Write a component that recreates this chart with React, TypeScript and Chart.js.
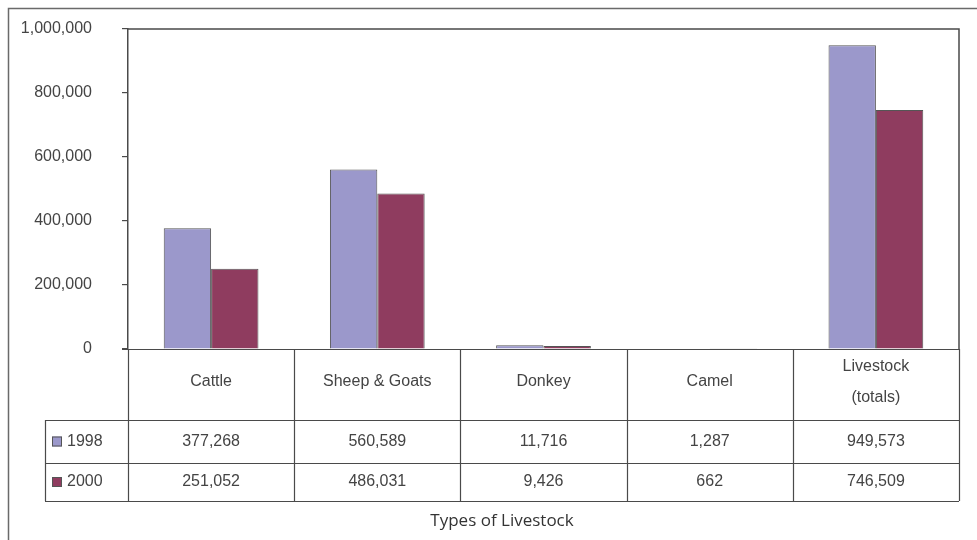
import React, { useEffect, useRef } from "react";
import { Chart, registerables } from "chart.js";

Chart.register(...registerables);

const categories: string[][] = [["Cattle"], ["Sheep & Goats"], ["Donkey"], ["Camel"], ["Livestock", "(totals)"]];
const series1998: number[] = [377268, 560589, 11716, 1287, 949573];
const series2000: number[] = [251052, 486031, 9426, 662, 746509];
const seriesNames: string[] = ["1998", "2000"];
const yTicks: number[] = [0, 200000, 400000, 600000, 800000, 1000000];
const xTitle = "Types of Livestock";

const color1998 = "#9b98cb";
const color2000 = "#8f3c5f";
const borderCol = "#4a4a4a";
const textCol = "#444444";
const FONT = "'Liberation Sans', Arial, sans-serif";

const fmt = (v: number) => v.toLocaleString("en-US");

const tablePlugin = {
  id: "tablePlugin",
  afterDraw(chart: any) {
    const ctx: CanvasRenderingContext2D = chart.ctx;
    const area = chart.chartArea;
    const x = chart.scales.x;
    const n = categories.length;
    const colW = (area.right - area.left) / n;
    const top = area.bottom;
    const headerBottom = top + 71;
    const row1Bottom = headerBottom + 43;
    const row2Bottom = row1Bottom + 38;
    const legendLeft = 45;

    ctx.save();
    // outer frame
    ctx.strokeStyle = "#6a6a6a";
    ctx.lineWidth = 1.5;
    ctx.beginPath();
    ctx.moveTo(8.5, 545);
    ctx.lineTo(8.5, 8.5);
    ctx.lineTo(980, 8.5);
    ctx.stroke();

    // plot top and right borders
    ctx.strokeStyle = borderCol;
    ctx.lineWidth = 1.5;
    ctx.beginPath();
    ctx.moveTo(area.left, area.top);
    ctx.lineTo(area.right, area.top);
    ctx.lineTo(area.right, area.bottom);
    ctx.stroke();

    // table lines
    ctx.lineWidth = 1.2;
    ctx.beginPath();
    for (let i = 0; i <= n; i++) {
      const px = Math.round(area.left + i * colW) + 0.5;
      ctx.moveTo(px, top);
      ctx.lineTo(px, row2Bottom);
    }
    ctx.moveTo(legendLeft + 0.5, headerBottom);
    ctx.lineTo(legendLeft + 0.5, row2Bottom);
    [headerBottom, row1Bottom, row2Bottom].forEach((yy) => {
      ctx.moveTo(legendLeft, yy + 0.5);
      ctx.lineTo(area.right, yy + 0.5);
    });
    ctx.moveTo(area.left - 6, top + 0.5);
    ctx.lineTo(area.right, top + 0.5);
    ctx.stroke();

    ctx.fillStyle = textCol;
    ctx.font = `16px ${FONT}`;
    ctx.textAlign = "center";
    ctx.textBaseline = "middle";
    categories.forEach((lines, i) => {
      const cx = x.getPixelForValue(i);
      if (lines.length === 1) {
        ctx.fillText(lines[0], cx, top + 33);
      } else {
        ctx.fillText(lines[0], cx, top + 18);
        ctx.fillText(lines[1], cx, top + 49);
      }
      ctx.fillText(fmt(series1998[i]), cx, (headerBottom + row1Bottom) / 2);
      ctx.fillText(fmt(series2000[i]), cx, (row1Bottom + row2Bottom) / 2);
    });

    // legend cells
    const rows = [
      { name: seriesNames[0], color: color1998, y: (headerBottom + row1Bottom) / 2 },
      { name: seriesNames[1], color: color2000, y: (row1Bottom + row2Bottom) / 2 },
    ];
    rows.forEach((r) => {
      ctx.fillStyle = r.color;
      ctx.fillRect(52, r.y - 5, 10, 10);
      ctx.strokeStyle = "#555";
      ctx.lineWidth = 1;
      ctx.strokeRect(52.5, r.y - 4.5, 9, 9);
      ctx.fillStyle = textCol;
      ctx.textAlign = "left";
      ctx.fillText(r.name, 67, r.y);
    });

    // x title
    ctx.fillStyle = "#333";
    ctx.font = `17px 'Open Sans', sans-serif`;
    ctx.textAlign = "center";
    ctx.fillText(xTitle, (legendLeft + area.right) / 2, 521);
    ctx.restore();
  },
};

export default function App() {
  const ref = useRef<HTMLCanvasElement | null>(null);
  useEffect(() => {
    document.body.style.margin = "0";
    const canvas = ref.current!;
    const chart = new Chart(canvas, {
      type: "bar",
      data: {
        labels: categories.map((c) => c.join(" ")),
        datasets: [
          {
            label: seriesNames[0],
            data: series1998,
            backgroundColor: color1998,
            borderColor: "#555",
            borderWidth: 1,
            categoryPercentage: 0.57,
            barPercentage: 1,
          },
          {
            label: seriesNames[1],
            data: series2000,
            backgroundColor: color2000,
            borderColor: "#555",
            borderWidth: 1,
            categoryPercentage: 0.57,
            barPercentage: 1,
          },
        ],
      },
      options: {
        responsive: false,
        animation: false,
        layout: { autoPadding: false, padding: { top: 29, right: 18, bottom: 191, left: 0 } },
        plugins: { legend: { display: false }, tooltip: { enabled: false } },
        scales: {
          x: { display: false },
          y: {
            min: 0,
            max: 1000000,
            afterFit: (s: any) => {
              s.width = 128;
              s.paddingTop = 0;
              s.paddingBottom = 0;
            },
            afterBuildTicks: (s: any) => {
              s.ticks = yTicks.map((v) => ({ value: v }));
            },
            ticks: {
              padding: 30,
              color: textCol,
              font: { family: FONT, size: 16 },
              callback: (v: any) => fmt(Number(v)),
            },
            grid: { drawOnChartArea: false, drawTicks: true, tickLength: 6, color: borderCol, lineWidth: 1.2 },
            border: { display: true, color: borderCol, width: 1.5 },
          },
        },
      },
      plugins: [tablePlugin],
    });
    return () => chart.destroy();
  }, []);
  return <canvas ref={ref} width={977} height={540} style={{ display: "block" }} />;
}
